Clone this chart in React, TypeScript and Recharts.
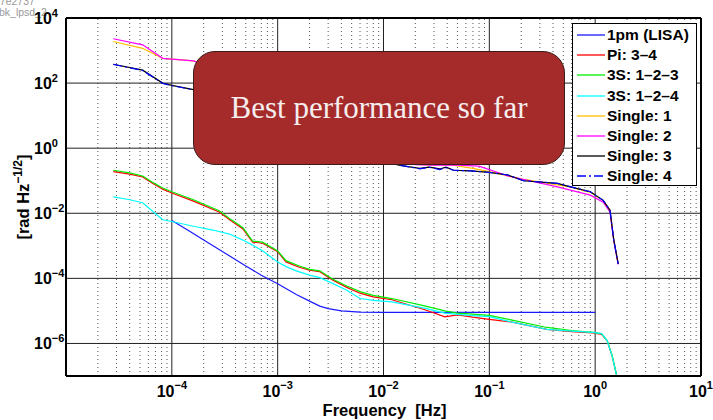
import { Line, LineChart, ReferenceLine, XAxis, YAxis } from 'recharts'

// Frequency [Hz] / amplitude [rad Hz^-1/2].
const lisa: [number, number][] = [
  [1e-4, 6e-3], [1.5e-4, 2.7e-3], [2e-4, 1.5e-3], [3e-4, 6.7e-4], [5e-4, 2.4e-4], [7e-4, 1.25e-4],
  [1e-3, 6.8e-5], [1.5e-3, 3.2e-5], [2e-3, 2e-5], [2.5e-3, 1.4e-5], [3e-3, 1.18e-5], [4e-3, 1e-5],
  [6e-3, 9.2e-6], [1e-2, 9e-6], [1e-1, 9e-6], [1, 9e-6],
]
const pi34: [number, number][] = [
  [2.8e-5, 0.19], [4e-5, 0.16], [5.3e-5, 0.13], [6.5e-5, 0.085], [8.2e-5, 0.055], [1e-4, 0.042],
  [1.6e-4, 0.0236], [2.8e-4, 0.011], [3.6e-4, 6e-3], [4.7e-4, 3.3e-3], [5.8e-4, 1.3e-3], [7.2e-4, 1.2e-3],
  [1e-3, 6.6e-4], [1.2e-3, 3.2e-4], [1.6e-3, 2.2e-4], [2e-3, 1.8e-4], [2.5e-3, 1.6e-4], [3.3e-3, 8.9e-5],
  [4.5e-3, 5.3e-5], [6e-3, 3.5e-5], [8e-3, 2.7e-5], [1.2e-2, 2.2e-5], [2.5e-2, 1.07e-5], [3.8e-2, 6.6e-6],
  [5e-2, 7.6e-6], [7e-2, 6.4e-6], [1e-1, 5.5e-6], [1.6e-1, 4.6e-6], [3.5e-1, 2.7e-6], [6e-1, 2.3e-6],
  [0.95, 2.1e-6], [1.15, 1.9e-6], [1.3, 1.2e-6], [1.45, 4e-7], [1.6, 1e-7], [1.7, 3e-8],
]
const s123: [number, number][] = [
  [2.8e-5, 0.21], [4e-5, 0.175], [5.3e-5, 0.14], [6.5e-5, 0.092], [8.2e-5, 0.06], [1e-4, 0.046],
  [1.6e-4, 0.026], [2.8e-4, 0.012], [3.6e-4, 6.5e-3], [4.7e-4, 3.6e-3], [5.8e-4, 1.4e-3], [7.2e-4, 1.3e-3],
  [1e-3, 7e-4], [1.2e-3, 3.5e-4], [1.6e-3, 2.4e-4], [2e-3, 1.9e-4], [2.5e-3, 1.7e-4], [3.3e-3, 9.5e-5],
  [4.5e-3, 5.8e-5], [6e-3, 3.9e-5], [8e-3, 3e-5], [1.2e-2, 2.4e-5], [2.5e-2, 1.4e-5], [3.8e-2, 1e-5],
  [5e-2, 8.6e-6], [7e-2, 8e-6], [1e-1, 7.3e-6], [1.6e-1, 5.3e-6], [3.5e-1, 3.1e-6], [6e-1, 2.5e-6],
  [0.95, 2.2e-6], [1.15, 2e-6], [1.3, 1.2e-6], [1.45, 4.2e-7], [1.6, 1e-7], [1.7, 3e-8],
]
const s124: [number, number][] = [
  [2.8e-5, 0.032], [4e-5, 0.026], [5.3e-5, 0.021], [6.5e-5, 0.012], [8.2e-5, 6.3e-3], [1e-4, 5.6e-3],
  [1.6e-4, 4e-3], [2.5e-4, 3e-3], [3.5e-4, 2.3e-3], [4.7e-4, 1.5e-3], [5.8e-4, 1.05e-3], [7.2e-4, 7e-4],
  [1e-3, 3.2e-4], [1.2e-3, 2.3e-4], [1.5e-3, 1.7e-4], [2e-3, 1.26e-4], [2.5e-3, 1.05e-4], [3.3e-3, 7e-5],
  [4.5e-3, 4.3e-5], [6e-3, 2.4e-5], [8e-3, 2.1e-5], [1.2e-2, 1.9e-5], [2.5e-2, 1.2e-5], [3.8e-2, 8.5e-6],
  [5e-2, 7.8e-6], [7e-2, 7.2e-6], [1e-1, 6.7e-6], [1.6e-1, 4.6e-6], [3.5e-1, 2.7e-6], [6e-1, 2.4e-6],
  [0.95, 2.2e-6], [1.15, 2e-6], [1.3, 1.2e-6], [1.45, 4e-7], [1.6, 1e-7], [1.7, 3e-8],
]
const single1: [number, number][] = [
  [2.8e-5, 1900], [5.3e-5, 1170], [8.2e-5, 575], [1.6e-4, 480], [5e-4, 120], [1e-3, 25], [3e-3, 3],
  [1e-2, 0.6], [2e-2, 0.32], [3e-2, 0.3], [4.2e-2, 0.31], [7e-2, 0.24], [1e-1, 0.19], [2.1e-1, 0.11],
  [5.8e-1, 0.065], [0.9, 0.044], [1.19, 0.025], [1.38, 0.0125], [1.5, 1.5e-3], [1.65, 2.8e-4],
]
const single2: [number, number][] = [
  [2.8e-5, 2300], [5.3e-5, 1500], [8.2e-5, 575], [1.6e-4, 480], [5e-4, 130], [1e-3, 30], [3e-3, 3.5],
  [1e-2, 0.6], [2e-2, 0.31], [3e-2, 0.3], [5e-2, 0.3], [8e-2, 0.28], [1.5e-1, 0.14], [4.4e-1, 0.065],
  [0.9, 0.036], [1.19, 0.022], [1.38, 0.011], [1.5, 1.4e-3], [1.65, 2.7e-4],
]
const single3: [number, number][] = [
  [2.8e-5, 380], [5.3e-5, 250], [8.2e-5, 100], [1e-4, 85], [1.6e-4, 63], [5e-4, 20], [1e-3, 8],
  [3e-3, 1.5], [8e-3, 0.5], [1.4e-2, 0.3], [1.7e-2, 0.27], [2.2e-2, 0.24], [2.7e-2, 0.26], [3.4e-2, 0.23],
  [3.9e-2, 0.26], [4.6e-2, 0.21], [6.7e-2, 0.2], [1e-1, 0.18], [1.5e-1, 0.15], [2.1e-1, 0.1],
  [4.4e-1, 0.083], [5.8e-1, 0.065], [0.9, 0.046], [1.19, 0.025], [1.38, 0.0125], [1.5, 1.5e-3], [1.65, 2.8e-4],
]
const single4: [number, number][] = [
  [2.8e-5, 375], [5.3e-5, 245], [8.2e-5, 98], [1e-4, 84], [1.6e-4, 62], [5e-4, 20], [1e-3, 8],
  [3e-3, 1.5], [8e-3, 0.5], [1.4e-2, 0.3], [1.7e-2, 0.27], [2e-2, 0.25], [2.2e-2, 0.23], [2.7e-2, 0.26],
  [3.4e-2, 0.22], [3.9e-2, 0.25], [4.6e-2, 0.21], [6.7e-2, 0.2], [1e-1, 0.18], [1.5e-1, 0.15], [2.1e-1, 0.1],
  [4.4e-1, 0.083], [5.8e-1, 0.066], [0.9, 0.046], [1.19, 0.025], [1.38, 0.0125], [1.5, 1.5e-3], [1.65, 2.8e-4],
]

const series = [
  { name: '1pm (LISA)', color: '#1a1aff', dash: undefined, data: lisa },
  { name: 'Pi: 3–4', color: '#ff0000', dash: undefined, data: pi34 },
  { name: '3S: 1–2–3', color: '#00ee00', dash: undefined, data: s123 },
  { name: '3S: 1–2–4', color: '#00ffff', dash: undefined, data: s124 },
  { name: 'Single: 1', color: '#ffbf00', dash: undefined, data: single1 },
  { name: 'Single: 2', color: '#ff00ff', dash: undefined, data: single2 },
  { name: 'Single: 3', color: '#000000', dash: undefined, data: single3 },
  { name: 'Single: 4', color: '#0000ff', dash: '9 3 2 3', data: single4 },
]

const xTicks = [1e-4, 1e-3, 1e-2, 1e-1, 1, 10]
const yTicks = [1e-6, 1e-4, 1e-2, 1, 1e2, 1e4]
const xMajor = [1e-4, 1e-3, 1e-2, 1e-1, 1]
const yMajor = [1e-6, 1e-4, 1e-2, 1, 1e2]
const xMinor: number[] = []
for (let d = -5; d <= 0; d++) for (let k = 2; k <= 9; k++) xMinor.push(k * Math.pow(10, d))

const SANS = '"Liberation Sans", Arial, sans-serif'

const expText = (v: number) => {
  const e = Math.round(Math.log10(v))
  return e < 0 ? '−' + -e : String(e)
}

function XTick({ x, y, payload }: any) {
  return (
    <text x={x} y={y + 21} textAnchor="middle" fontFamily={SANS} fontWeight="bold" fontSize={16} fill="#000">
      <tspan>10</tspan>
      <tspan dy={-8} fontSize={11}>{expText(payload.value)}</tspan>
    </text>
  )
}

function YTick({ x, y, payload }: any) {
  return (
    <text x={x - 32} y={y + 6} textAnchor="start" fontFamily={SANS} fontWeight="bold" fontSize={16} fill="#000">
      <tspan>10</tspan>
      <tspan dy={-7} fontSize={11}>{expText(payload.value)}</tspan>
    </text>
  )
}

export default function App() {
  return (
    <div style={{ position: 'absolute', left: 0, top: 0, width: 713, height: 420, background: '#fff', overflow: 'hidden' }}>
      <div style={{ position: 'absolute', left: -6, top: -4, fontFamily: SANS, fontSize: 10.5, color: '#999', lineHeight: '10px' }}>
        37e2737
      </div>
      <div style={{ position: 'absolute', left: -1, top: 7, fontFamily: SANS, fontSize: 10.5, color: '#999', lineHeight: '10px' }}>
        bk_lpsd_2
      </div>
      <LineChart width={713} height={420} margin={{ top: 18, right: 12, bottom: 0, left: 0 }}>
        <XAxis
          type="number"
          dataKey="f"
          scale="log"
          domain={[1e-5, 10]}
          ticks={xTicks}
          allowDataOverflow
          height={44}
          tickSize={0}
          tickMargin={0}
          tickLine={false}
          axisLine={false}
          tick={<XTick />}
        />
        <YAxis
          type="number"
          dataKey="v"
          scale="log"
          domain={[1e-7, 1e4]}
          ticks={yTicks}
          allowDataOverflow
          width={66}
          tickSize={0}
          tickMargin={0}
          tickLine={false}
          axisLine={false}
          tick={<YTick />}
        />
        {xMinor.map((v) => (
          <ReferenceLine key={'m' + v} x={v} stroke="#555" strokeWidth={1} strokeDasharray="1 3" />
        ))}
        {xMajor.map((v) => (
          <ReferenceLine key={'x' + v} x={v} stroke="#222" strokeWidth={1} />
        ))}
        {yMajor.map((v) => (
          <ReferenceLine key={'y' + v} y={v} stroke="#222" strokeWidth={1} />
        ))}
        {series.map((s) => (
          <Line
            key={s.name}
            data={s.data.map(([f, v]) => ({ f, v }))}
            dataKey="v"
            name={s.name}
            stroke={s.color}
            strokeWidth={1.2}
            strokeDasharray={s.dash}
            dot={false}
            type="linear"
            isAnimationActive={false}
          />
        ))}
        <ReferenceLine x={1e-5} stroke="#000" strokeWidth={2} />
        <ReferenceLine x={10} stroke="#000" strokeWidth={2} />
        <ReferenceLine y={1e-7} stroke="#000" strokeWidth={2} />
        <ReferenceLine y={1e4} stroke="#000" strokeWidth={2} />
      </LineChart>

      <svg width={40} height={140} style={{ position: 'absolute', left: 0, top: 127 }}>
        <text
          transform="translate(29,70) rotate(-90)"
          textAnchor="middle"
          fontFamily={SANS}
          fontWeight="bold"
          fontSize={16.5}
          fill="#000"
        >
          <tspan>[rad Hz</tspan>
          <tspan dy={-7} fontSize={12}>−1/2</tspan>
          <tspan dy={7}>]</tspan>
        </text>
      </svg>
      <div
        style={{
          position: 'absolute', left: 0, width: 713, top: 401, textAlign: 'center', paddingLeft: 56,
          boxSizing: 'border-box', fontFamily: SANS, fontWeight: 'bold', fontSize: 16.5, lineHeight: '18px', whiteSpace: 'pre',
        }}
      >
        Frequency  [Hz]
      </div>

      <div
        style={{
          position: 'absolute', left: 572, top: 23, width: 125, height: 163, boxSizing: 'border-box',
          border: '1.5px solid #000', background: '#fff', paddingTop: 1,
        }}
      >
        {series.map((s) => (
          <div key={s.name} style={{ display: 'flex', alignItems: 'center', height: 20.2 }}>
            <svg width={34} height={10} style={{ flex: 'none' }}>
              <line x1={4} x2={32} y1={5} y2={5} stroke={s.color} strokeWidth={1.3} strokeDasharray={s.dash} />
            </svg>
            <span style={{ fontFamily: SANS, fontWeight: 'bold', fontSize: 15.5, color: '#000', whiteSpace: 'nowrap' }}>
              {s.name}
            </span>
          </div>
        ))}
      </div>

      <div
        style={{
          position: 'absolute', left: 193, top: 51, width: 372, height: 114, boxSizing: 'border-box',
          background: '#a52a2a', border: '1px solid #3a1a1a', borderRadius: 22,
          display: 'flex', alignItems: 'center', justifyContent: 'center',
          fontFamily: '"Liberation Serif", "Times New Roman", serif', fontSize: 31, color: '#f6eeee',
        }}
      >
        Best performance so far
      </div>
    </div>
  )
}
